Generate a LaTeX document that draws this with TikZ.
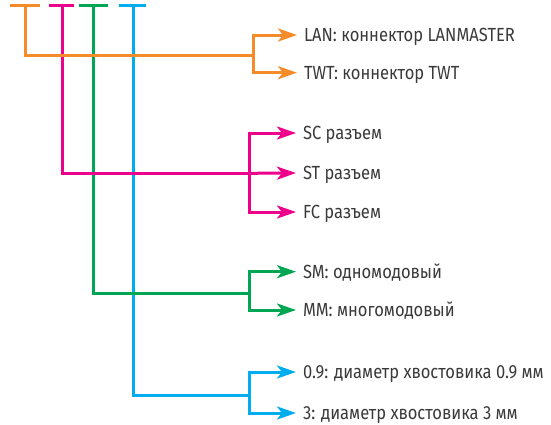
\documentclass[tikz,border=0pt]{standalone}
\usepackage{fontspec}
\setmainfont{Fira Sans}[FakeStretch=0.87]
\usetikzlibrary{arrows.meta}
\definecolor{corange}{HTML}{F68B2A}
\definecolor{cpink}{HTML}{EC008C}
\definecolor{cgreen}{HTML}{00A651}
\definecolor{cblue}{HTML}{00AEEF}
\definecolor{textgray}{HTML}{3A3A3A}
\begin{document}
\begin{tikzpicture}[x=1pt,y=-1pt,line width=3pt,
  lbl/.style={anchor=west,inner sep=0pt,outer sep=0pt,text height=13pt,text depth=0pt,
    font=\fontsize{19}{22}\selectfont,text=textgray},
  arr/.style={-{Stealth[length=19pt,width=13pt,inset=5pt]}},
  bar/.style={line cap=butt}]
\useasboundingbox (0,0) rectangle (551,424);
% top bars
\coordinate (ot) at (25,5);  \coordinate (oj) at (253,55.5);
\coordinate (pt) at (62,5);  \coordinate (pj) at (249,173.3);
\coordinate (gt) at (93,5);  \coordinate (gj) at (249,293.3);
\coordinate (bt) at (133,5); \coordinate (bj) at (249,395.7);
\draw[corange,bar] (10,5) -- (40,5);
\draw[cpink,bar] (49,5) -- (74,5);
\draw[cgreen,bar] (79,5) -- (108,5);
\draw[cblue,bar] (119,5) -- (146,5);
% labels
\node[lbl] (lan) at (304,35) {LAN: коннектор LANMASTER};
\node[lbl] (twt) at (304,72.7) {TWT: коннектор TWT};
\node[lbl] (sc) at (303,133) {SC разъем};
\node[lbl] (st) at (303,173) {ST разъем};
\node[lbl] (fc) at (303,212) {FC разъем};
\node[lbl] (sm) at (303,271.7) {SM: одномодовый};
\node[lbl] (mm) at (303,310) {MM: многомодовый};
\node[lbl] (d09) at (303,372) {0.9: диаметр хвостовика 0.9 мм};
\node[lbl] (d3) at (303,413) {3: диаметр хвостовика 3 мм};
% blue
\draw[cblue] (bt) |- (bj);
\draw[cblue,arr] (bj) |- ([xshift=-7pt]d09.west);
\draw[cblue,arr] (bj) |- ([xshift=-7pt]d3.west);
% green
\draw[cgreen] (gt) |- (gj);
\draw[cgreen,arr] (gj) |- ([xshift=-7pt]sm.west);
\draw[cgreen,arr] (gj) |- ([xshift=-7pt]mm.west);
% pink
\draw[cpink] (pt) |- (pj);
\draw[cpink,arr] (pj) |- ([xshift=-7pt]sc.west);
\draw[cpink,arr] (pj) -- ([xshift=-7pt]st.west);
\draw[cpink,arr] (pj) |- ([xshift=-7pt]fc.west);
% orange
\draw[corange] (ot) |- (oj);
\draw[corange,arr] (oj) |- ([xshift=-7pt]lan.west);
\draw[corange,arr] (oj) |- ([xshift=-7pt]twt.west);
\end{tikzpicture}
\end{document}
